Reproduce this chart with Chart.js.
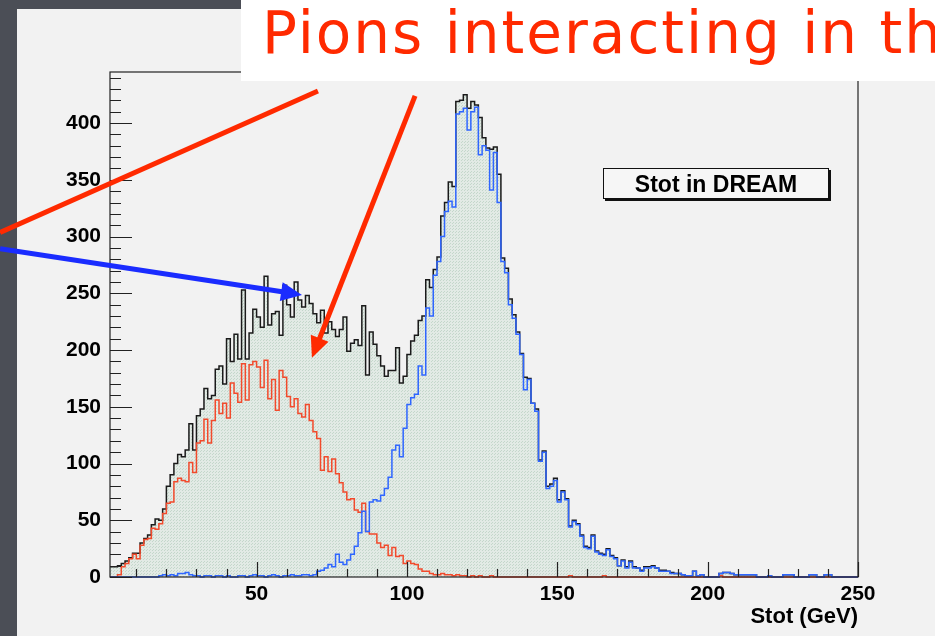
<!DOCTYPE html>
<html>
<head>
<meta charset="utf-8">
<script src="https://cdn.jsdelivr.net/npm/chart.js@4.4.1/dist/chart.umd.min.js"></script>
<style>
    html, body { margin: 0; padding: 0; }
    body { width: 935px; height: 636px; overflow: hidden; background: #4b4e56; position: relative; }
    #panel { position: absolute; left: 17px; top: 9px; right: 0; bottom: 0; background: #f2f2f2; }
    #myChart { position: absolute; left: 0; top: 0; }
    #banner { position: absolute; left: 241px; top: 0; width: 694px; height: 81px; background: #fff; overflow: hidden; white-space: nowrap; }
    #banner span { position: absolute; left: 21px; top: -1px; font: 58px "DejaVu Sans"; letter-spacing: 2px; color: #ff2a00; }
    #statbox { position: absolute; left: 603px; top: 168px; width: 224px; height: 29px; border: 1.5px solid #111; box-shadow: 2px 2px 0 #111; background: #f6f6f6; font: bold 23px "Liberation Sans"; text-align: center; line-height: 30px; color: #000; }
</style>
</head>
<body>
<div id="panel"></div>
<canvas id="myChart" width="935" height="636"></canvas>
<div id="banner"><span>Pions interacting in th</span></div>
<div id="statbox">Stot in DREAM</div>
<script>
// histogram binning (GeV)
const binStart = 1.25;
const binWidth = 1.25;

// total (black, filled)
const total = [
    9, 9, 10, 12, 14, 17, 21, 21, 30, 34,
    37, 46, 51, 50, 60, 80, 90, 100, 108, 106,
    112, 135, 112, 142, 148, 166, 157, 160, 183, 186,
    170, 210, 190, 214, 192, 253, 192, 215, 236, 229,
    220, 265, 222, 232, 234, 213, 257, 240, 229, 260,
    244, 238, 248, 241, 232, 224, 235, 215, 225, 218,
    212, 218, 229, 199, 206, 209, 204, 239, 178, 216,
    205, 195, 186, 177, 182, 182, 202, 171, 177, 196,
    208, 213, 226, 230, 262, 255, 271, 282, 318, 330,
    348, 344, 419, 420, 425, 413, 419, 416, 405, 387,
    378, 377, 379, 355, 281, 272, 245, 231, 216, 197,
    176, 175, 153, 148, 103, 111, 80, 82, 87, 68,
    76, 69, 45, 50, 47, 37, 27, 26, 37, 23,
    21, 20, 25, 19, 17, 10, 15, 9, 14, 9,
    8, 6, 9, 9, 10, 8, 6, 6, 5, 4,
    3, 3, 2, 1, 1, 5, 1, 2, 0, 0,
    0, 0, 3, 4, 4, 3, 2, 2, 2, 2,
    2, 2, 0, 0, 0, 1, 0, 0, 0, 2,
    2, 2, 0, 0, 0, 0, 2, 2, 0, 0,
    2, 2, 0, 0, 0, 0, 0, 0, 0,
];

// pions interacting early (red)
const interacting = [
    0, 0, 2, 9, 12, 16, 20, 16, 28, 33,
    34, 43, 42, 47, 56, 65, 66, 84, 87, 85,
    84, 101, 92, 118, 120, 139, 118, 138, 156, 144,
    153, 140, 171, 162, 154, 188, 156, 187, 190, 185,
    167, 191, 157, 174, 147, 182, 176, 159, 150, 157,
    144, 141, 152, 138, 128, 122, 94, 106, 93, 104,
    91, 83, 75, 68, 69, 59, 57, 65, 40, 38,
    38, 30, 26, 28, 19, 26, 18, 19, 12, 14,
    12, 11, 7, 5, 5, 3, 2, 2, 3, 2,
    2, 1, 2, 1, 1, 0, 1, 0, 1, 0,
    0, 1, 0, 0, 0, 0, 0, 0, 0, 0,
    0, 0, 0, 0, 0, 0, 0, 0, 0, 0,
    0, 0, 1, 0, 0, 0, 0, 0, 0, 0,
    0, 1, 0, 0, 0, 0, 0, 0, 0, 0,
    0, 0, 0, 0, 0, 0, 0, 0, 0, 0,
    0, 0, 0, 0, 0, 0, 0, 0, 0, 0,
    0, 0, 1, 0, 0, 0, 0, 0, 0, 0,
    0, 0, 0, 0, 0, 0, 0, 0, 0, 0,
    0, 0, 0, 0, 0, 0, 0, 0, 0, 0,
    0, 0, 0, 0, 0, 0, 0, 0, 0,
];

// pions not interacting (blue)
const nonInteracting = [
    0, 0, 0, 0, 0, 0, 0, 0, 0, 0,
    0, 0, 0, 1, 2, 1, 2, 1, 3, 3,
    4, 2, 1, 1, 0, 1, 1, 0, 1, 1,
    0, 1, 0, 0, 1, 1, 0, 1, 2, 1,
    1, 0, 1, 2, 1, 0, 1, 1, 2, 1,
    1, 2, 2, 1, 2, 5, 6, 8, 11, 9,
    20, 13, 11, 15, 20, 27, 39, 58, 40, 66,
    68, 67, 72, 78, 88, 112, 116, 106, 131, 152,
    158, 161, 186, 178, 237, 230, 266, 278, 300, 322,
    331, 326, 408, 410, 413, 394, 410, 414, 372, 380,
    376, 341, 374, 330, 278, 268, 240, 228, 214, 196,
    165, 174, 153, 146, 102, 110, 78, 80, 85, 66,
    75, 68, 44, 49, 46, 36, 26, 25, 36, 22,
    20, 19, 24, 18, 16, 10, 14, 8, 13, 8,
    8, 5, 8, 8, 9, 8, 5, 5, 5, 3,
    3, 3, 2, 1, 1, 5, 1, 2, 0, 0,
    0, 0, 3, 4, 4, 3, 2, 2, 2, 2,
    2, 2, 0, 0, 0, 1, 0, 0, 0, 2,
    2, 2, 0, 0, 0, 0, 2, 2, 0, 0,
    2, 2, 0, 0, 0, 0, 0, 0, 0,
];

const xTicks = [50, 100, 150, 200, 250];
const yTicks = [0, 50, 100, 150, 200, 250, 300, 350, 400];
const xRange = [1.25, 250];
const yRange = [0, 445];

// annotation arrows, in axis units (start, end)
const arrows = [
    { from: [-35.3, 303.6], to: [70.4, 428.3], color: "#ff2a00", head: false },
    { from: [102.7, 423.9], to: [68.4, 193.1], color: "#ff2a00", head: true },
    { from: [-35.3, 289.3], to: [65.1, 248.6], color: "#1a2cff", head: true },
];

// bin contents -> step points (left edges + closing edge)
function toSteps(values) {
    const pts = values.map((v, i) => ({ x: binStart + i * binWidth, y: v }));
    pts.push({ x: binStart + values.length * binWidth, y: values[values.length - 1] });
    return pts;
}

function dotPattern() {
    const c = document.createElement("canvas");
    c.width = 3;
    c.height = 3;
    const g = c.getContext("2d");
    g.fillStyle = "#e2eae5";
    g.fillRect(0, 0, 3, 3);
    g.fillStyle = "#c4d7cb";
    g.fillRect(0, 0, 1, 1);
    g.fillRect(2, 1, 1, 1);
    return g.createPattern(c, "repeat");
}

const rootAxes = {
    id: "rootAxes",
    afterDatasetsDraw(chart) {
        const { ctx, chartArea: a, scales } = chart;
        const x = scales.x;
        const y = scales.y;
        ctx.save();
        ctx.strokeStyle = "#222";
        ctx.lineWidth = 1.2;
        ctx.strokeRect(a.left, a.top, a.right - a.left, a.bottom - a.top);
        ctx.beginPath();
        for (let v = 10; v <= xRange[1]; v += 10) {
            const px = Math.round(x.getPixelForValue(v)) + 0.5;
            const len = v % 50 === 0 ? 15 : 8;
            ctx.moveTo(px, a.bottom);
            ctx.lineTo(px, a.bottom - len);
        }
        for (let v = 0; v <= yRange[1]; v += 10) {
            const py = Math.round(y.getPixelForValue(v)) + 0.5;
            const len = v % 50 === 0 ? 22 : 11;
            ctx.moveTo(a.left, py);
            ctx.lineTo(a.left + len, py);
        }
        ctx.stroke();

        // arrows
        for (const ar of arrows) {
            const x0 = x.getPixelForValue(ar.from[0]);
            const y0 = y.getPixelForValue(ar.from[1]);
            const x1 = x.getPixelForValue(ar.to[0]);
            const y1 = y.getPixelForValue(ar.to[1]);
            const ang = Math.atan2(y1 - y0, x1 - x0);
            const headLen = ar.head ? 21 : 0;
            ctx.strokeStyle = ar.color;
            ctx.fillStyle = ar.color;
            ctx.lineWidth = 5;
            ctx.lineCap = "butt";
            ctx.beginPath();
            ctx.moveTo(x0, y0);
            ctx.lineTo(x1 - Math.cos(ang) * headLen * 0.8, y1 - Math.sin(ang) * headLen * 0.8);
            ctx.stroke();
            if (ar.head) {
                const w = 9.5;
                const bx = x1 - Math.cos(ang) * headLen;
                const by = y1 - Math.sin(ang) * headLen;
                ctx.beginPath();
                ctx.moveTo(x1, y1);
                ctx.lineTo(bx + Math.sin(ang) * w, by - Math.cos(ang) * w);
                ctx.lineTo(bx - Math.sin(ang) * w, by + Math.cos(ang) * w);
                ctx.closePath();
                ctx.fill();
            }
        }
        ctx.restore();
    },
};

const tickFont = { family: "Liberation Sans", size: 21, weight: "bold" };

const ctx = document.getElementById("myChart");
const myChart = new Chart(ctx, {
    type: "line",
    data: {
        datasets: [
            {
                label: "total",
                data: toSteps(total),
                stepped: "before",
                borderColor: "#1a1a1a",
                borderWidth: 1.5,
                backgroundColor: dotPattern(),
                fill: "origin",
                pointRadius: 0,
                clip: false,
                order: 3,
            },
            {
                label: "interacting",
                data: toSteps(interacting),
                stepped: "before",
                borderColor: "#f24a2c",
                borderWidth: 1.5,
                fill: false,
                pointRadius: 0,
                clip: false,
                order: 2,
            },
            {
                label: "non interacting",
                data: toSteps(nonInteracting),
                stepped: "before",
                borderColor: "#2f66ff",
                borderWidth: 1.5,
                fill: false,
                pointRadius: 0,
                clip: false,
                order: 1,
            },
        ],
    },
    options: {
        responsive: false,
        animation: false,
        layout: { padding: { left: 0, right: 77, top: 72, bottom: 0 } },
        plugins: {
            legend: { display: false },
            tooltip: { enabled: false },
        },
        scales: {
            x: {
                type: "linear",
                min: xRange[0],
                max: xRange[1],
                afterBuildTicks: (scale) => {
                    scale.ticks = xTicks.map((v) => ({ value: v }));
                },
                afterFit: (scale) => {
                    scale.height = 59;
                },
                grid: { display: false, drawTicks: false },
                border: { display: false },
                ticks: { color: "#000", font: tickFont, padding: 5, maxRotation: 0 },
                title: {
                    display: true,
                    text: "Stot (GeV)",
                    align: "end",
                    color: "#000",
                    font: { family: "Liberation Sans", size: 22, weight: "bold" },
                    padding: { top: 0, bottom: 6 },
                },
            },
            y: {
                type: "linear",
                min: yRange[0],
                max: yRange[1],
                afterBuildTicks: (scale) => {
                    scale.ticks = yTicks.map((v) => ({ value: v }));
                },
                afterFit: (scale) => {
                    scale.width = 110;
                },
                grid: { display: false, drawTicks: false },
                border: { display: false },
                ticks: { color: "#000", font: tickFont, padding: 9 },
            },
        },
    },
    plugins: [rootAxes],
});
</script>
</body>
</html>
